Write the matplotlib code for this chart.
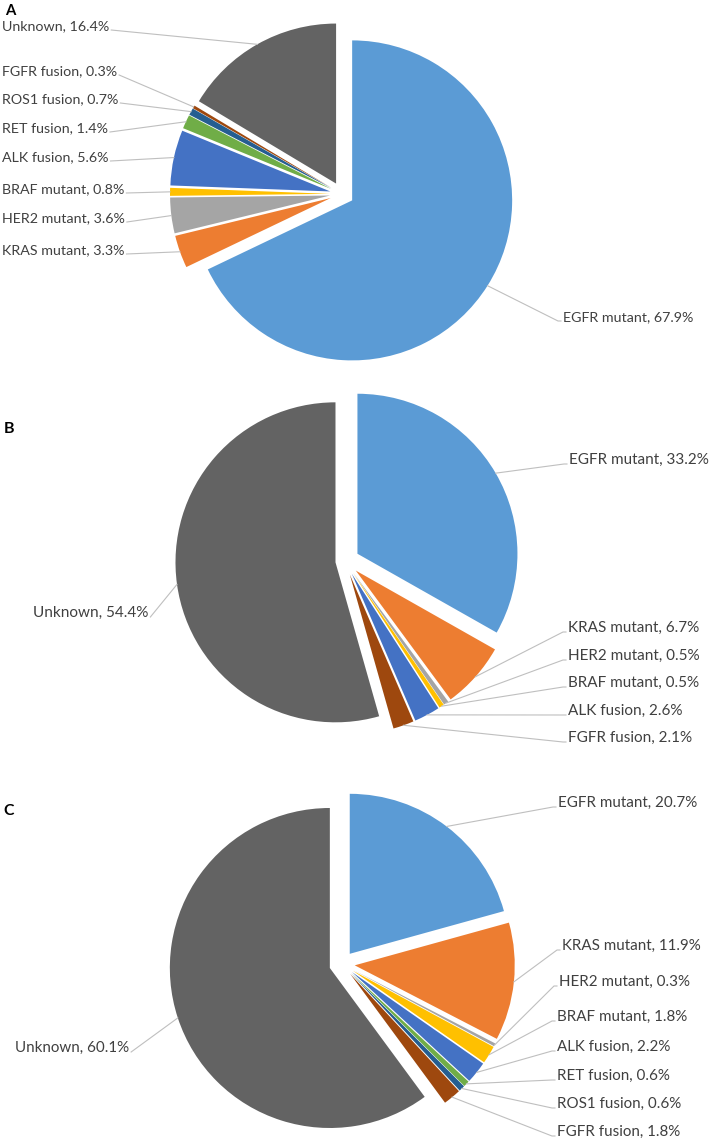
import matplotlib
matplotlib.use("Agg")
import matplotlib.pyplot as plt
import numpy as np

W, H = 709, 1139

# ---------------- data ----------------
cats_A = ["EGFR mutant", "KRAS mutant", "HER2 mutant", "BRAF mutant", "ALK fusion",
          "RET fusion", "ROS1 fusion", "FGFR fusion", "Unknown"]
vals_A = [67.9, 3.3, 3.6, 0.8, 5.6, 1.4, 0.7, 0.3, 16.4]

cats_B = ["EGFR mutant", "KRAS mutant", "HER2 mutant", "BRAF mutant", "ALK fusion",
          "FGFR fusion", "Unknown"]
vals_B = [33.2, 6.7, 0.5, 0.5, 2.6, 2.1, 54.4]

cats_C = ["EGFR mutant", "KRAS mutant", "HER2 mutant", "BRAF mutant", "ALK fusion",
          "RET fusion", "ROS1 fusion", "FGFR fusion", "Unknown"]
vals_C = [20.7, 11.9, 0.3, 1.8, 2.2, 0.6, 0.6, 1.8, 60.1]

panel_letters = ["A", "B", "C"]

# ---------------- style ----------------
color_map = {
    "EGFR mutant": "#5B9BD5", "KRAS mutant": "#ED7D31", "HER2 mutant": "#A5A5A5",
    "BRAF mutant": "#FFC000", "ALK fusion": "#4472C4", "RET fusion": "#70AD47",
    "ROS1 fusion": "#255E91", "FGFR fusion": "#9E480E", "Unknown": "#636363",
}
FONT = "Lato"
TXT = "#404040"
LINE = "#BFBFBF"
R = 160

# layout (image pixel coords: x, y-center)
layout = [
    dict(cats=cats_A, vals=vals_A, center=(342, 194), explode=0.075, other_explode=0.075,
         letter=(10, 11), target_w=122,
         labels={"EGFR mutant": (563, 317), "KRAS mutant": (2, 250),
                 "HER2 mutant": (2, 218), "BRAF mutant": (2, 189),
                 "ALK fusion": (2, 157), "RET fusion": (2, 128),
                 "ROS1 fusion": (2, 99), "FGFR fusion": (2, 71),
                 "Unknown": (2, 26)},
         right_side={"EGFR mutant"}),
    dict(cats=cats_B, vals=vals_B, center=(345, 561), explode=0.09, other_explode=0.06,
         letter=(9, 429), target_w=131,
         labels={"EGFR mutant": (569, 460), "KRAS mutant": (568, 628),
                 "HER2 mutant": (568, 656), "BRAF mutant": (568, 683),
                 "ALK fusion": (568, 711), "FGFR fusion": (568, 738),
                 "Unknown": (33, 613)},
         right_side={"EGFR mutant", "KRAS mutant", "HER2 mutant", "BRAF mutant",
                     "ALK fusion", "FGFR fusion"}),
    dict(cats=cats_C, vals=vals_C, center=(342, 964), explode=0.08, other_explode=0.08,
         letter=(9, 811), target_w=130,
         labels={"EGFR mutant": (558, 803), "KRAS mutant": (562, 946),
                 "HER2 mutant": (559, 982), "BRAF mutant": (557, 1017),
                 "ALK fusion": (557, 1047), "RET fusion": (557, 1076),
                 "ROS1 fusion": (557, 1104), "FGFR fusion": (557, 1132),
                 "Unknown": (15, 1048)},
         right_side={"EGFR mutant", "KRAS mutant", "HER2 mutant", "BRAF mutant",
                     "ALK fusion", "RET fusion", "ROS1 fusion", "FGFR fusion"}),
]

fig = plt.figure(figsize=(W / 100, H / 100), dpi=100)
ax = fig.add_axes([0, 0, 1, 1])

# draw pies
for panel in layout:
    cats, vals = panel["cats"], panel["vals"]
    cx, cy_img = panel["center"]
    cy = H - cy_img
    frac = [panel["other_explode"] if c == "Unknown" else panel["explode"] for c in cats]
    panel["frac"] = frac
    ax.pie(vals, colors=[color_map[c] for c in cats], startangle=90, counterclock=False,
           explode=[f * R for f in frac], center=(cx, cy), radius=R, frame=True,
           wedgeprops=dict(linewidth=0))

ax.set_autoscale_on(False)
ax.set_xlim(0, W)
ax.set_ylim(0, H)
ax.set_aspect("auto")
ax.axis("off")

renderer = fig.canvas.get_renderer()
inv = ax.transData.inverted()

# font size calibration: width of a "KRAS mutant, x.x%" label
probe = ax.text(0, 0, "KRAS mutant, 6.7%", fontsize=10, family=FONT)
probe_w = probe.get_window_extent(renderer).width
probe.remove()

for panel, letter in zip(layout, panel_letters):
    cats, vals, frac = panel["cats"], panel["vals"], panel["frac"]
    cx, cy_img = panel["center"]
    cy = H - cy_img
    fs = 10 * panel["target_w"] / probe_w
    total = float(sum(vals))
    cum = 0.0
    for c, v, ex in zip(cats, vals, frac):
        start = 90 - 360 * cum / total
        mid = np.deg2rad(start - 180 * v / total)
        cum += v
        ox = cx + (R + ex * R) * np.cos(mid)
        oy = cy + (R + ex * R) * np.sin(mid)
        lx, ly_img = panel["labels"][c]
        t = ax.text(lx, H - ly_img, f"{c}, {v:.1f}%", fontsize=fs, family=FONT,
                    color=TXT, ha="left", va="center")
        bb = inv.transform(t.get_window_extent(renderer))
        if c in panel["right_side"]:
            ex_, ey_ = bb[0][0] - 5, H - (ly_img + 4)
            ax.plot([ox, ex_, ex_ + 3], [oy, ey_, ey_], color=LINE, lw=0.8)
        else:
            ex_, ey_ = bb[1][0] + 2, H - (ly_img + 4)
            ax.plot([ex_, ox], [ey_, oy], color=LINE, lw=0.8)

    lx, ly = panel["letter"]
    ax.text(lx, H - ly, letter, fontsize=fs * 1.05, family=FONT, fontweight="bold",
            color="black", ha="center", va="center")

fig.savefig("out.png", dpi=100)
